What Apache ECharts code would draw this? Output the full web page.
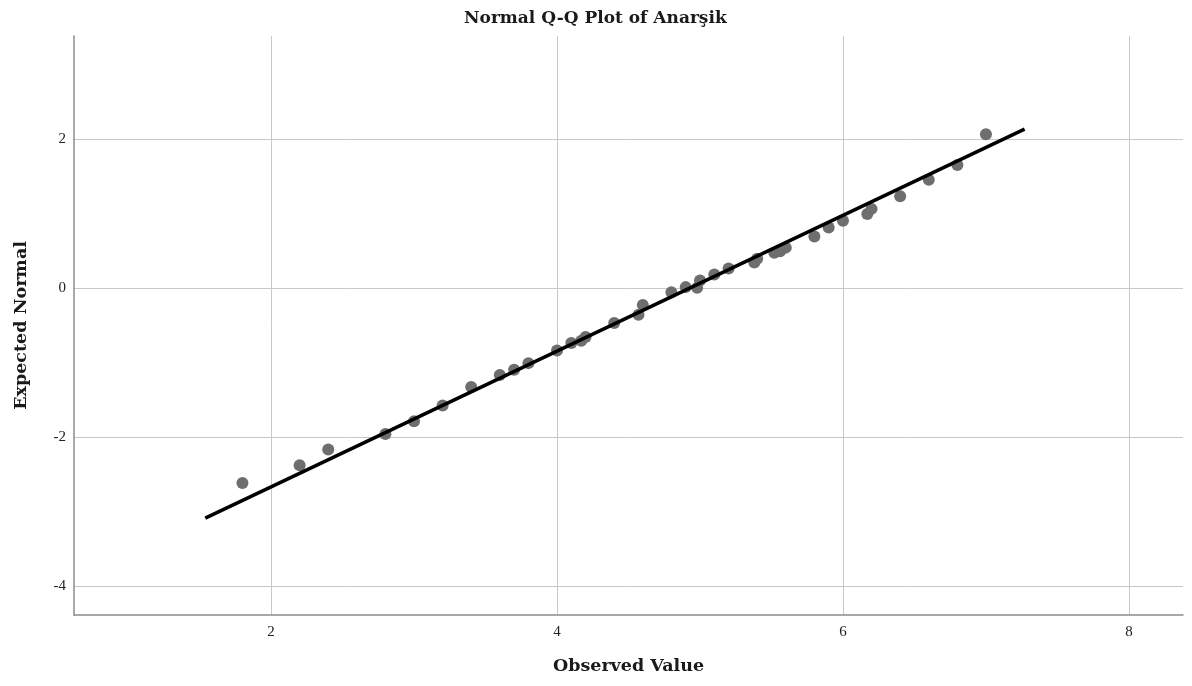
<!DOCTYPE html>
<html>
<head>
<meta charset="utf-8">
<script src="https://cdn.jsdelivr.net/npm/echarts@6/dist/echarts.min.js"></script>
<style>
html,body{margin:0;padding:0;background:#fff;}
#chart{width:1192px;height:686px;}
</style>
</head>
<body>
<div id="chart"></div>
<script>
var observed = [1.8, 2.2, 2.4, 2.8, 3.0, 3.2, 3.4, 3.6, 3.7, 3.8, 4.0, 4.1, 4.17, 4.2, 4.4, 4.57, 4.6, 4.8, 4.9, 4.98, 5.0, 5.1, 5.2, 5.38, 5.4, 5.52, 5.56, 5.6, 5.8, 5.9, 6.0, 6.17, 6.2, 6.4, 6.6, 6.8, 7.0];
var expected = [-2.62, -2.38, -2.17, -1.96, -1.79, -1.58, -1.33, -1.17, -1.10, -1.01, -0.84, -0.74, -0.71, -0.66, -0.47, -0.36, -0.23, -0.06, 0.01, 0.0, 0.10, 0.18, 0.26, 0.34, 0.39, 0.47, 0.49, 0.54, 0.69, 0.81, 0.90, 0.99, 1.06, 1.23, 1.45, 1.65, 2.06];
// Reference line endpoints
var lineX = [1.54, 7.27];
var lineY = [-3.09, 2.13];
// Tick labels
var xTicks = [2, 4, 6, 8];
var yTicks = [-4, -2, 0, 2];

var titleText = 'Normal Q-Q Plot of Anarşik';
var xName = 'Observed Value';
var yName = 'Expected Normal';

var pts = observed.map(function (v, i) { return [v, expected[i]]; });
var linePts = lineX.map(function (v, i) { return [v, lineY[i]]; });

var serif = '"DejaVu Serif", "Liberation Serif", serif';
var chart = echarts.init(document.getElementById('chart'), null, {renderer: 'canvas'});
chart.setOption({
  animation: false,
  backgroundColor: '#ffffff',
  title: {
    text: titleText,
    left: 459,
    top: 5,
    textStyle: {fontFamily: serif, fontWeight: 'bold', fontSize: 17, color: '#1a1a1a'}
  },
  grid: {left: 74, right: 9, top: 36, bottom: 71, containLabel: false},
  xAxis: {
    type: 'value',
    min: 0.622, max: 8.378,
    name: xName,
    nameLocation: 'middle',
    nameGap: 42,
    nameTextStyle: {fontFamily: serif, fontWeight: 'bold', fontSize: 17.5, color: '#1a1a1a'},
    axisLine: {show: true, onZero: false, lineStyle: {color: '#8c8c8c', width: 1.5}},
    axisTick: {show: false, customValues: xTicks},
    axisLabel: {customValues: xTicks, margin: 10, fontFamily: '"Liberation Serif", serif', fontSize: 15, color: '#222'},
    splitLine: {show: true, lineStyle: {color: '#c8c8c8', width: 1}}
  },
  yAxis: {
    type: 'value',
    min: -4.39, max: 3.38,
    name: yName,
    nameLocation: 'middle',
    nameGap: 44,
    nameTextStyle: {fontFamily: serif, fontWeight: 'bold', fontSize: 17.5, color: '#1a1a1a'},
    axisLine: {show: true, onZero: false, lineStyle: {color: '#8c8c8c', width: 1.5}},
    axisTick: {show: false, customValues: yTicks},
    axisLabel: {customValues: yTicks, margin: 8, fontFamily: '"Liberation Serif", serif', fontSize: 15, color: '#222'},
    splitLine: {show: true, lineStyle: {color: '#c8c8c8', width: 1}}
  },
  series: [
    {
      type: 'scatter',
      data: pts,
      symbol: 'circle',
      symbolSize: 12,
      itemStyle: {color: '#6e6e6e', opacity: 1},
      z: 2
    },
    {
      type: 'line',
      data: linePts,
      symbol: 'none',
      lineStyle: {color: '#000', width: 3.5},
      z: 3
    }
  ]
});
</script>
</body>
</html>
